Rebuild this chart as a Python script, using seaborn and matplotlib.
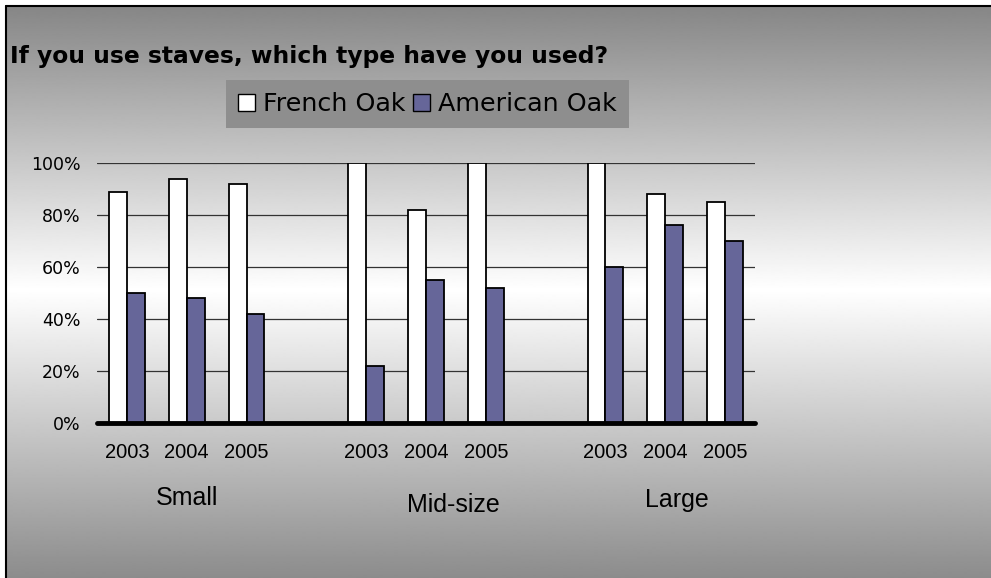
import numpy as np
import pandas as pd
import matplotlib
matplotlib.use("Agg")
import matplotlib.pyplot as plt
import matplotlib.transforms as mtransforms
from matplotlib.lines import Line2D
from matplotlib.patches import Patch
import seaborn as sns

# ---- data ----
groups = ["Small", "Mid-size", "Large"]
years = ["2003", "2004", "2005"]
series = ["French Oak", "American Oak"]
french_oak = [89, 94, 92, 100, 82, 100, 100, 88, 85]
american_oak = [50, 48, 42, 22, 55, 52, 60, 76, 70]
y_ticks = [0, 20, 40, 60, 80, 100]
title = "If you use staves, which type have you used?"

colors = {"French Oak": "#ffffff", "American Oak": "#666699"}

sns.set_theme(style="white")
plt.rcParams["font.family"] = ["DejaVu Sans"]
plt.rcParams["text.color"] = "black"

W, H = 991, 578
fig = plt.figure(figsize=(W / 100, H / 100), dpi=100, facecolor="white")

# ---- gradient background (chart area) ----
bg = fig.add_axes([6 / W, 0, 1 - 6 / W, 1 - 6 / H], zorder=-10)
rows = np.arange(6, H + 1)
shade = np.interp(rows, [6, 290, 578], [134, 255, 140]) / 255.0
bg.imshow(shade[:, None], aspect="auto", cmap="gray", vmin=0, vmax=1,
          extent=[0, 1, 0, 1], interpolation="bilinear")
bg.set_axis_off()
fig.add_artist(Line2D([6 / W, 6 / W], [0, 1 - 6 / H], transform=fig.transFigure,
                      color="black", lw=1.5))
fig.add_artist(Line2D([6 / W, 1], [1 - 6 / H, 1 - 6 / H], transform=fig.transFigure,
                      color="black", lw=1.5))

# ---- long-form table ----
positions = []
for gi in range(len(groups)):
    for yi in range(len(years)):
        positions.append(gi * (len(years) + 1) + yi)
df = pd.DataFrame({
    "pos": positions * 2,
    "series": [series[0]] * len(positions) + [series[1]] * len(positions),
    "value": french_oak + american_oak,
})

ax = fig.add_axes([97 / W, 1 - 423 / H, (755 - 97) / W, (423 - 163) / H])
ax.patch.set_alpha(0)

sns.barplot(data=df, x="pos", y="value", hue="series", hue_order=series,
            native_scale=True, width=0.6, palette=colors, saturation=1,
            edgecolor="black", linewidth=1.3, legend=False, ax=ax, zorder=3)

ax.set_xlim(-0.5, positions[-1] + 0.5)
ax.set_ylim(0, 100)
ax.set_yticks(y_ticks)
ax.set_yticklabels([f"{v}%" for v in y_ticks], fontsize=12.5)
ax.set_xticks(positions)
ax.set_xticklabels(years * len(groups), fontsize=14.5, family="Liberation Sans")
ax.tick_params(axis="y", length=0, pad=12, colors="black")
ax.tick_params(axis="x", length=0, pad=14.5, colors="black")
ax.set_xlabel("")
ax.set_ylabel("")
for s in ax.spines.values():
    s.set_visible(False)
ax.yaxis.grid(True, color="#333333", lw=0.9, zorder=1)
ax.xaxis.grid(False)
ax.set_axisbelow(True)
ax.axhline(0, color="black", lw=3.5, solid_capstyle="round", clip_on=False, zorder=5)

# group labels
trans = mtransforms.blended_transform_factory(ax.transData, fig.transFigure)
label_x = [1.0, 5.45, 9.2]
label_base = [505, 512, 507]
for name, gx, by in zip(groups, label_x, label_base):
    ax.text(gx, 1 - by / H, name, transform=trans, ha="center", va="baseline",
            fontsize=18, family="Liberation Sans", color="black")

# title
fig.text(10 / W, 1 - 63 / H, title, ha="left", va="baseline",
         fontsize=16.8, fontweight="bold", color="black")

# legend
handles = [Patch(facecolor=colors[s], edgecolor="black", lw=1.0) for s in series]
leg = fig.legend(handles, series, ncol=2, loc="upper left",
                 bbox_to_anchor=(226 / W, 1 - 80 / H), frameon=True,
                 facecolor="#8e8e8e", edgecolor="none", framealpha=1,
                 fancybox=False, handlelength=0.67, handleheight=0.67,
                 handletextpad=0.3, columnspacing=0.3, borderpad=0.48,
                 borderaxespad=0, fontsize=18.3, labelcolor="black")

fig.savefig("out.png", dpi=100, facecolor="white")
